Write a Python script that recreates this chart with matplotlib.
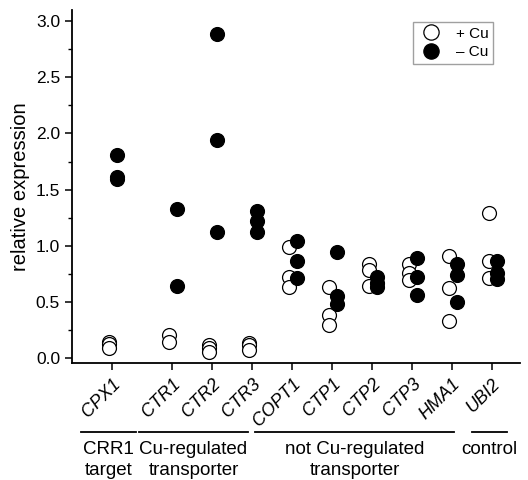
import matplotlib
matplotlib.use("Agg")
import matplotlib.pyplot as plt
from matplotlib.lines import Line2D
from matplotlib.ticker import MultipleLocator
import matplotlib.transforms as mtrans

plt.rcParams['font.family'] = ['Liberation Sans', 'DejaVu Sans']

genes = ["CPX1", "CTR1", "CTR2", "CTR3", "COPT1", "CTP1", "CTP2", "CTP3", "HMA1", "UBI2"]
positions = [0, 1.5, 2.5, 3.5, 4.5, 5.5, 6.5, 7.5, 8.5, 9.5]

plus_cu = [
    [0.14, 0.12, 0.09],
    [0.20, 0.14],
    [0.11, 0.09, 0.05],
    [0.13, 0.11, 0.07],
    [0.99, 0.72, 0.63],
    [0.63, 0.38, 0.29],
    [0.84, 0.78, 0.64],
    [0.84, 0.76, 0.69],
    [0.91, 0.62, 0.33],
    [1.29, 0.86, 0.71],
]
minus_cu = [
    [1.81, 1.61, 1.59],
    [1.33, 0.64],
    [2.885, 1.94, 1.12],
    [1.31, 1.22, 1.125],
    [1.04, 0.86, 0.715],
    [0.94, 0.555, 0.48],
    [0.72, 0.67, 0.63],
    [0.89, 0.72, 0.56],
    [0.84, 0.735, 0.50],
    [0.86, 0.76, 0.70],
]

group_labels = ["CRR1\ntarget", "Cu-regulated\ntransporter", "not Cu-regulated\ntransporter", "control"]
group_spans = [(-0.78, 0.6), (0.68, 3.4), (3.58, 8.55), (9.0, 9.88)]

fig = plt.figure(figsize=(5.28, 4.8), dpi=100)
ax = fig.add_axes([0.136, 0.244, 0.849, 0.735])

for x, vals in zip(positions, plus_cu):
    ax.plot([x - 0.08] * len(vals), vals, 'o', ms=10, mfc='white', mec='black', mew=0.9, ls='none')
for x, vals in zip(positions, minus_cu):
    ax.plot([x + 0.12] * len(vals), vals, 'o', ms=10, mfc='black', mec='black', mew=0.9, ls='none')

ax.set_xlim(-1.0, 10.2)
ax.set_ylim(-0.045, 3.1)
ax.spines['top'].set_visible(False)
ax.spines['right'].set_visible(False)
for s in ('left', 'bottom'):
    ax.spines[s].set_linewidth(1.3)

ax.set_yticks([0.0, 0.5, 1.0, 1.5, 2.0, 2.5, 3.0])
ax.set_yticklabels(["0.0", "0.5", "1.0", "1.5", "2.0", "2.5", "3.0"], fontsize=12.5)
ax.yaxis.set_minor_locator(MultipleLocator(0.25))
ax.tick_params(axis='y', which='major', length=5, width=1.1, direction='out')
ax.tick_params(axis='y', which='minor', length=3, width=1.0, direction='out')
ax.set_xticks(positions)
ax.set_xticklabels(genes, rotation=45, ha='right', rotation_mode='anchor', fontsize=13, style='italic')
ax.tick_params(axis='x', which='major', length=5, width=1.1, direction='out', pad=4)
ax.set_ylabel("relative expression", fontsize=14.5, labelpad=4)

trans = mtrans.blended_transform_factory(ax.transData, ax.transAxes)
for (x0, x1), lab in zip(group_spans, group_labels):
    ax.add_line(Line2D([x0, x1], [-0.195, -0.195], color='black', lw=1.3, transform=trans, clip_on=False))
    ax.text((x0 + x1) / 2, -0.222, lab, transform=trans, ha='center', va='top', fontsize=13.5, linespacing=1.3)

handles = [
    Line2D([], [], marker='o', ls='none', ms=11, mfc='white', mec='black', mew=0.9),
    Line2D([], [], marker='o', ls='none', ms=11, mfc='black', mec='black', mew=0.9),
]
leg = ax.legend(handles, ["+ Cu", "\u2013 Cu"], loc='upper right', bbox_to_anchor=(0.94, 0.966),
                borderaxespad=0.0,
                fontsize=11, frameon=True, fancybox=False, edgecolor='#888888',
                handletextpad=0.7, borderpad=0.3, labelspacing=0.3, handlelength=1.8)
leg.get_frame().set_linewidth(1.0)

fig.savefig("out.png", dpi=100)
